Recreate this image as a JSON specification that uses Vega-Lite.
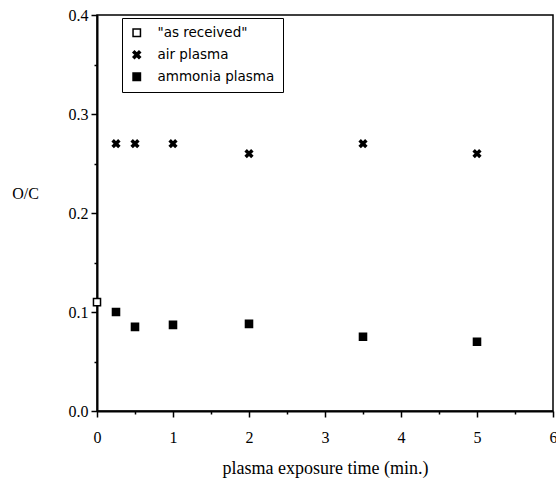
{
  "$schema": "https://vega.github.io/schema/vega-lite/v6.json",
  "width": 456,
  "height": 396,
  "autosize": {"type": "none"},
  "padding": {"left": 97, "top": 15, "right": 3, "bottom": 70},
  "background": "white",
  "config": {
    "view": {"stroke": "black", "strokeWidth": 1.5},
    "font": "Liberation Serif",
    "axis": {
      "grid": false,
      "domainColor": "black",
      "domainWidth": 2,
      "tickColor": "black",
      "tickWidth": 1.5,
      "labelColor": "black",
      "labelFont": "Liberation Serif",
      "labelFontSize": 16,
      "titleFont": "Liberation Serif",
      "titleFontSize": 18,
      "titleFontWeight": "normal",
      "titleColor": "black"
    },
    "legend": {
      "title": null,
      "orient": "none",
      "legendX": 25,
      "legendY": 3,
      "strokeColor": "black",
      "fillColor": "white",
      "padding": 8,
      "labelFont": "DejaVu Sans",
      "labelFontSize": 13.5,
      "labelColor": "black",
      "labelOffset": 14,
      "rowPadding": 7,
      "symbolSize": 55,
      "symbolStrokeWidth": 1.5
    }
  },
  "data": {
    "values": [
      {"time": 0, "oc": 0.11, "series": "\"as received\""},
      {"time": 0.25, "oc": 0.27, "series": "air plasma"},
      {"time": 0.5, "oc": 0.27, "series": "air plasma"},
      {"time": 1, "oc": 0.27, "series": "air plasma"},
      {"time": 2, "oc": 0.26, "series": "air plasma"},
      {"time": 3.5, "oc": 0.27, "series": "air plasma"},
      {"time": 5, "oc": 0.26, "series": "air plasma"},
      {"time": 0.25, "oc": 0.1, "series": "ammonia plasma"},
      {"time": 0.5, "oc": 0.085, "series": "ammonia plasma"},
      {"time": 1, "oc": 0.087, "series": "ammonia plasma"},
      {"time": 2, "oc": 0.088, "series": "ammonia plasma"},
      {"time": 3.5, "oc": 0.075, "series": "ammonia plasma"},
      {"time": 5, "oc": 0.07, "series": "ammonia plasma"}
    ]
  },
  "mark": {"type": "point", "filled": true, "strokeWidth": 1.5, "size": 50, "opacity": 1},
  "encoding": {
    "x": {
      "field": "time",
      "type": "quantitative",
      "scale": {"domain": [0, 6], "nice": false, "zero": false},
      "axis": {
        "title": "plasma exposure time (min.)",
        "values": [0, 0.5, 1, 1.5, 2, 2.5, 3, 3.5, 4, 4.5, 5, 5.5, 6],
        "labelExpr": "datum.value % 1 === 0 ? format(datum.value, 'd') : ''",
        "tickSize": {"condition": {"test": "datum.value % 1 !== 0", "value": 3}, "value": 6},
        "labelPadding": 12,
        "titlePadding": 14,
        "labelFlush": false
      }
    },
    "y": {
      "field": "oc",
      "type": "quantitative",
      "scale": {"domain": [0, 0.4], "nice": false},
      "axis": {
        "title": "O/C",
        "values": [0, 0.05, 0.1, 0.15, 0.2, 0.25, 0.3, 0.35, 0.4],
        "labelExpr": "round(datum.value * 100) % 10 === 0 ? format(datum.value, '.1f') : ''",
        "tickSize": {"condition": {"test": "round(datum.value * 100) % 10 !== 0", "value": 3}, "value": 6},
        "labelPadding": 3,
        "labelFlush": false,
        "titleAngle": 0,
        "titleAlign": "center",
        "titleBaseline": "middle",
        "titleX": -72,
        "titleY": 178,
        "titleFontSize": 16
      }
    },
    "shape": {
      "field": "series",
      "type": "nominal",
      "scale": {
        "domain": ["\"as received\"", "air plasma", "ammonia plasma"],
        "range": [
          "square",
          "M-1,-0.6L-0.6,-1L0,-0.4L0.6,-1L1,-0.6L0.4,0L1,0.6L0.6,1L0,0.4L-0.6,1L-1,0.6L-0.4,0Z",
          "square"
        ]
      }
    },
    "fill": {
      "field": "series",
      "type": "nominal",
      "scale": {
        "domain": ["\"as received\"", "air plasma", "ammonia plasma"],
        "range": ["white", "black", "black"]
      }
    },
    "stroke": {
      "field": "series",
      "type": "nominal",
      "scale": {
        "domain": ["\"as received\"", "air plasma", "ammonia plasma"],
        "range": ["black", "black", "black"]
      }
    }
  }
}
